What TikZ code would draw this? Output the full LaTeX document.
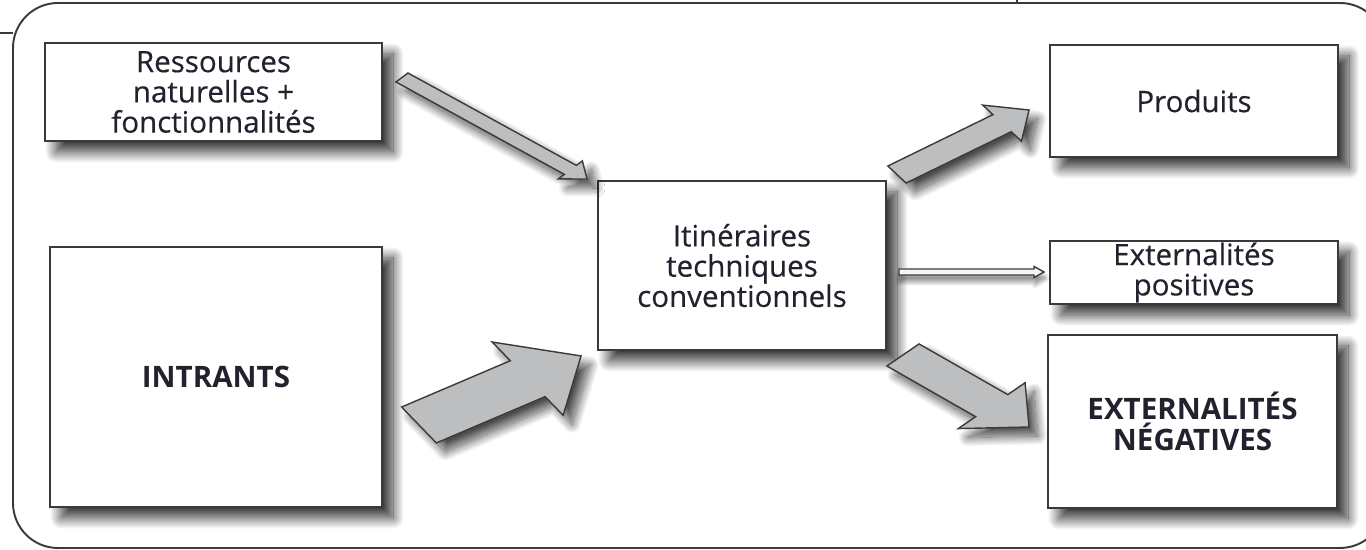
\documentclass[tikz,border=0pt]{standalone}
\definecolor{inkDark}{HTML}{22222E}
\definecolor{lineGrey}{HTML}{3A3A3A}
\definecolor{arrowGrey}{HTML}{BCBEC0}
\usepackage{fontspec}
\setmainfont{Open Sans}[UprightFeatures={FakeBold=0.4}]
\usepackage{tikz}
\usetikzlibrary{calc, positioning, shadows.blur}

% block arrow: [style] tail, tip, half shaft, half head, head length, skew angle
\newcommand{\fatarrow}[7][]{%
	\coordinate (hb) at ($(#3)!#6!(#2)$);
	\draw[arrowbody, #1] ($(#2)!#4!#7:(#3)$) -- ($(hb)!#4!#7:(#3)$) -- ($(hb)!#5!#7:(#3)$) -- (#3)
		-- ($(hb)!-#5!#7:(#3)$) -- ($(hb)!-#4!#7:(#3)$) -- ($(#2)!-#4!#7:(#3)$) -- cycle;}

\begin{document}
\begin{tikzpicture}
		[auto,
		box/.style ={rectangle, draw=lineGrey, line width=1.1pt, fill=white, align=center, text=inkDark, font=\fontsize{16.8}{17.2}\selectfont,
			blur shadow={shadow xshift=0.22cm, shadow yshift=-0.22cm, shadow blur radius=0.22cm, shadow blur steps=25, shadow opacity=80}},
		arrowbody/.style ={draw=lineGrey, line width=0.8pt, fill=arrowGrey, line join=miter,
			blur shadow={shadow xshift=0.18cm, shadow yshift=-0.18cm, shadow blur radius=0.18cm, shadow blur steps=25, shadow opacity=70}},
		thinarrow/.style ={blur shadow={shadow xshift=0.02cm, shadow yshift=-0.12cm, shadow blur radius=0.1cm, shadow blur steps=10, shadow opacity=30}, fill=white!85!arrowGrey},
		frame/.style ={draw=lineGrey, line width=1.1pt, rounded corners=0.9cm}]
		\useasboundingbox (0,0) rectangle (27.32,11);
		\clip (0,0) rectangle (27.32,11);
		
		\draw[frame] (0.26,0.04) rectangle (27.7,10.94);
		\draw[lineGrey, line width=1pt] (0,10.34) -- (0.26,10.34);
		\draw[lineGrey, line width=1pt] (20.34,11) -- (20.34,10.94);
		
		\draw (4.27,9.16) node[box, minimum width=6.74cm, minimum height=1.96cm, inner ysep=1pt] (res) {Ressources\\naturelles +\\fonctionnalités};
		\draw (4.32,3.46) node[box, minimum width=6.64cm, minimum height=5.2cm] (intr) {\textbf{INTRANTS}};
		\draw (14.84,5.69) node[box, minimum width=5.76cm, minimum height=3.38cm] (iti) {Itinéraires\\techniques\\conventionnels};
		\draw (23.88,8.98) node[box, minimum width=5.76cm, minimum height=2.24cm] (prod) {Produits};
		\draw (23.88,5.55) node[box, minimum width=5.76cm, minimum height=1.14cm, inner ysep=1pt] (pos) {Externalités\\positives};
		\draw (23.85,2.57) node[box, minimum width=5.78cm, minimum height=3.46cm] (neg) {\textbf{EXTERNALITÉS}\\\textbf{NÉGATIVES}};
		
		\coordinate (a1s) at ($(res.east) + (0.38,0.29)$);
		\coordinate (a1e) at ($(iti.north west) + (-0.20,0.02)$);
		\coordinate (a2s) at ($(intr.east) + (0.72,-0.96)$);
		\coordinate (a2e) at ($(iti.south west) + (-0.32,-0.10)$);
		\coordinate (a3s) at ($(iti.north east) + (0.20,0.11)$);
		\coordinate (a3e) at ($(prod.west) + (-0.40,-0.18)$);
		\coordinate (a4s) at ($(iti.east) + (0.24,-0.13)$);
		\coordinate (a4e) at ($(pos.west) + (-0.10,0.01)$);
		\coordinate (a5s) at ($(iti.south east) + (0.32,-0.08)$);
		\coordinate (a5e) at ($(neg.west) + (-0.36,-0.11)$);
		
		\fatarrow{a1s}{a1e}{0.15cm}{0.3cm}{0.38cm}{65.6}
		\fatarrow{a2s}{a2e}{0.5cm}{1.02cm}{1.16cm}{-69}
		\fatarrow{a3s}{a3e}{0.25cm}{0.53cm}{0.6cm}{-69}
		\fatarrow[thinarrow]{a4s}{a4e}{0.06cm}{0.11cm}{0.2cm}{90}
		\fatarrow{a5s}{a5e}{0.39cm}{0.81cm}{0.86cm}{64.2}

	\end{tikzpicture}
\end{document}
